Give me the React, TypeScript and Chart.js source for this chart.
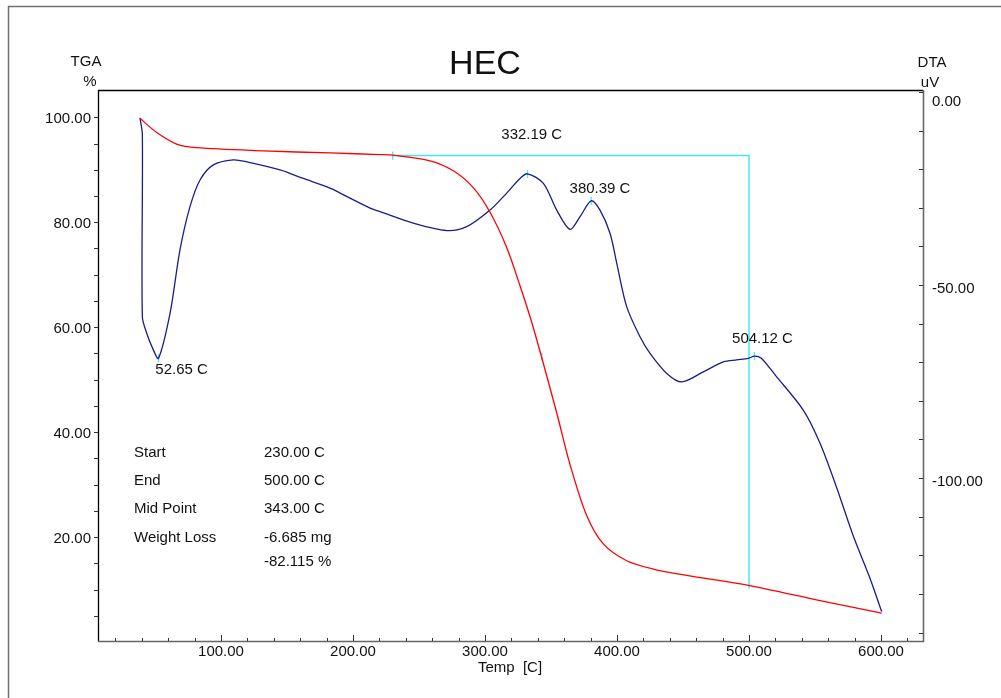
import React, { useEffect, useRef } from "react";
import { Chart, registerables } from "chart.js";
Chart.register(...registerables);

// ---- data ----
const tgaTemp = [38.5, 51.3, 66.4, 81.6, 132, 182.6, 220.5, 230, 258.3, 276, 291.1, 303.8, 316.4, 326.5, 336.6, 354.3, 364.4, 377, 389.6, 407.3, 427.5, 452.8, 499.5, 553.8, 600.5];
const tgaValues = [99.8, 97.1, 94.9, 94.2, 93.6, 93.2, 92.9, 92.8, 91.7, 89.8, 86.6, 81.9, 75.2, 67.9, 59.9, 43.7, 33.8, 24.1, 18.7, 15.5, 13.9, 12.7, 10.8, 7.9, 5.5];

const dtaTemp = [38.6, 40.4, 40.4, 43.7, 48.7, 52.65, 61.4, 68.9, 76.5, 84.1, 94.2, 109.3, 119.5, 144.7, 162.3, 182.6, 197.7, 212.9, 220.5, 245.7, 271, 286.1, 303.8, 316.4, 326.5, 332.19, 344.2, 354.3, 364.4, 372, 380.39, 387.1, 394.7, 399.8, 407.3, 417.4, 425, 437.7, 449, 465.4, 480.5, 490.7, 499.5, 504.12, 509.1, 520.5, 541.1, 553.8, 566.4, 579, 591.7, 600.5];
const dtaValues = [-6.7, -11.1, -58.2, -62.5, -66.8, -69.0, -57.3, -40.9, -29.7, -22.8, -18.9, -17.6, -18.1, -20.2, -22.4, -24.9, -27.5, -30.1, -31.0, -34.0, -35.9, -34.9, -30.6, -26.2, -22.4, -21.2, -23.7, -30.6, -35.6, -32.3, -28.2, -30.6, -36.6, -44.4, -55.6, -63.4, -67.7, -72.9, -75.1, -72.5, -69.9, -69.4, -69.0, -68.4, -68.9, -73.6, -82.4, -91.0, -102.5, -115.0, -126.0, -134.6];

// step analysis line (TGA axis)
const stepTemp = [230, 500, 500];
const stepValues = [92.7, 92.7, 10.2];

// peak markers (DTA axis)
const peakTemp = [52.65, 332.19, 380.39, 504.12];
const peakValues = [-69.0, -21.2, -28.2, -68.4];
const peakLabels = ["52.65 C", "332.19 C", "380.39 C", "504.12 C"];
const peakLabelTemp = [70.1, 335.4, 387.1, 510.2];
const peakLabelValues = [-71.5, -10.75, -24.7, -63.5];

// markers on TGA (start, mid point)
const tgaMarkTemp = [230, 343];
const tgaMarkValues = [92.7, 54.4];

// tick labels
const xTickLabels = [100, 200, 300, 400, 500, 600];
const tgaTickLabels = [20, 40, 60, 80, 100];
const dtaTickLabels = [0, -50, -100];

// info block
const infoNames = ["Start", "End", "Mid Point", "Weight Loss", ""];
const infoValues = ["230.00 C", "500.00 C", "343.00 C", "-6.685 mg", "-82.115 %"];

const FONT = "'Liberation Sans', Arial, Helvetica, sans-serif";
const CYAN = "rgb(70,232,240)";
const RED = "#ff0000";
const BLUE = "#1c1c8a";
const TEXT = "#111111";

const pts = (xs: number[], ys: number[]) => xs.map((x, i) => ({ x, y: ys[i] }));

const customPlugin = {
  id: "customAxes",
  afterDraw(chart: any) {
    const ctx: CanvasRenderingContext2D = chart.ctx;
    const { left, right, top, bottom } = chart.chartArea;
    const xs = chart.scales.x;
    const yl = chart.scales.y;
    const yr = chart.scales.y2;
    const line = (x1: number, y1: number, x2: number, y2: number) => {
      ctx.beginPath();
      ctx.moveTo(x1, y1);
      ctx.lineTo(x2, y2);
      ctx.stroke();
    };
    ctx.save();
    // outer frame
    ctx.strokeStyle = "#707070";
    ctx.lineWidth = 1.5;
    ctx.beginPath();
    ctx.moveTo(8.5, 698);
    ctx.lineTo(8.5, 6.5);
    ctx.lineTo(1001, 6.5);
    ctx.stroke();

    // top border and left axis
    ctx.strokeStyle = "#000";
    ctx.lineWidth = 1.3;
    line(left, top + 0.5, right, top + 0.5);
    line(left + 0.5, top, left + 0.5, bottom + 1);
    // bottom & right axes (grey)
    ctx.strokeStyle = "#666";
    ctx.lineWidth = 1.6;
    line(left, bottom + 0.5, right + 1, bottom + 0.5);
    line(right + 0.5, top, right + 0.5, bottom + 1);

    // x ticks
    ctx.lineWidth = 1;
    ctx.strokeStyle = "#333";
    for (let v = 20; v <= 620; v += 20) {
      const px = Math.round(xs.getPixelForValue(v)) + 0.5;
      const len = v % 100 === 0 ? 6 : 3;
      line(px, bottom, px, bottom - len);
    }
    // left ticks
    for (let v = 5; v <= 105; v += 5) {
      const py = Math.round(yl.getPixelForValue(v)) + 0.5;
      if (py < top + 2) continue;
      line(left, py, left - 4, py);
    }
    // right ticks
    for (let v = 0; v >= -140; v -= 10) {
      const py = Math.round(yr.getPixelForValue(v)) + 0.5;
      if (py > bottom - 1) continue;
      line(right, py, right - 4, py);
    }

    ctx.fillStyle = TEXT;
    ctx.font = `15px ${FONT}`;
    ctx.textBaseline = "alphabetic";
    // x tick labels
    ctx.textAlign = "center";
    xTickLabels.forEach((v) => {
      ctx.fillText(v.toFixed(2), xs.getPixelForValue(v), bottom + 15);
    });
    // left tick labels
    ctx.textAlign = "right";
    tgaTickLabels.forEach((v) => {
      ctx.fillText(v.toFixed(2), left - 7, yl.getPixelForValue(v) + 6);
    });
    // right tick labels
    ctx.textAlign = "left";
    dtaTickLabels.forEach((v) => {
      const py = Math.max(yr.getPixelForValue(v) + 2, top + 10);
      ctx.fillText(v.toFixed(2), right + 9, py + 6);
    });

    // axis titles
    ctx.textAlign = "center";
    ctx.fillText("TGA", 86, 66);
    ctx.fillText("%", 90, 86);
    ctx.fillText("DTA", 932, 67);
    ctx.fillText("uV", 930, 87);
    ctx.fillText("Temp  [C]", 510, 672);

    // title
    ctx.font = `34px ${FONT}`;
    ctx.fillText("HEC", 485, 74);

    // peak labels
    ctx.font = `15px ${FONT}`;
    peakLabels.forEach((t, i) => {
      ctx.fillText(t, xs.getPixelForValue(peakLabelTemp[i]), yr.getPixelForValue(peakLabelValues[i]) + 5.5);
    });

    // info block
    ctx.textAlign = "left";
    const baselines = [457, 484.5, 513, 541.5, 566];
    infoNames.forEach((n, i) => {
      if (n) ctx.fillText(n, 134, baselines[i]);
      ctx.fillText(infoValues[i], 264, baselines[i]);
    });
    ctx.restore();
  },
};

export default function App() {
  const ref = useRef<HTMLCanvasElement>(null);
  useEffect(() => {
    if (!ref.current) return;
    const chart = new Chart(ref.current, {
      type: "scatter",
      data: {
        datasets: [
          {
            label: "TGA",
            data: pts(tgaTemp, tgaValues),
            showLine: true,
            borderColor: RED,
            borderWidth: 1.3,
            pointRadius: 0,
            tension: 0.3,
            yAxisID: "y",
          },
          {
            label: "DTA",
            data: pts(dtaTemp, dtaValues),
            showLine: true,
            borderColor: BLUE,
            borderWidth: 1.3,
            pointRadius: 0,
            tension: 0.3,
            yAxisID: "y2",
          },
          {
            label: "step",
            data: pts(stepTemp, stepValues),
            showLine: true,
            borderColor: CYAN,
            borderWidth: 1.5,
            pointRadius: 0,
            tension: 0,
            yAxisID: "y",
          },
          {
            label: "peaks",
            data: pts(peakTemp, peakValues),
            showLine: false,
            pointStyle: "line",
            rotation: 90,
            pointRadius: 4,
            borderColor: CYAN,
            backgroundColor: CYAN,
            pointBorderWidth: 1.3,
            yAxisID: "y2",
          },
          {
            label: "tgaMarks",
            data: pts(tgaMarkTemp, tgaMarkValues),
            showLine: false,
            pointStyle: "line",
            rotation: 90,
            pointRadius: 4,
            borderColor: CYAN,
            backgroundColor: CYAN,
            pointBorderWidth: 1.3,
            yAxisID: "y",
          },
        ],
      },
      options: {
        responsive: false,
        animation: false,
        devicePixelRatio: 1,
        layout: { padding: { left: 98, right: 78, top: 90, bottom: 57 } },
        plugins: { legend: { display: false }, tooltip: { enabled: false }, title: { display: false } },
        scales: {
          x: { type: "linear", min: 6.8, max: 631.8, display: false },
          y: { type: "linear", min: 0.2, max: 105.2, display: false },
          y2: { type: "linear", min: -142.2, max: 0.5, display: false, position: "right" },
        },
      },
      plugins: [customPlugin],
    });
    return () => chart.destroy();
  }, []);
  return (
    <div style={{ position: "absolute", left: 0, top: 0, width: 1001, height: 698, background: "#fff" }}>
      <canvas ref={ref} width={1001} height={698} />
    </div>
  );
}
